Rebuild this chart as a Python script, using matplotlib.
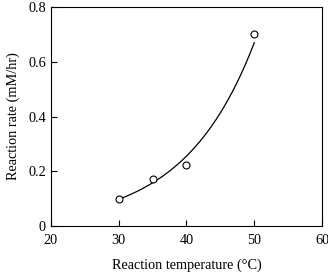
import numpy as np
import matplotlib
matplotlib.use("Agg")
import matplotlib.pyplot as plt

plt.rcParams['font.family'] = ['Liberation Serif', 'DejaVu Serif']

temperature = [30, 35, 40, 50]
rate = [0.0975, 0.172, 0.224, 0.70]
x_ticks = [20, 30, 40, 50, 60]
y_ticks = [0, 0.2, 0.4, 0.6, 0.8]
y_tick_labels = ["0", "0.2", "0.4", "0.6", "0.8"]

# exponential trend fitted to the data
b, ln_a = np.polyfit(temperature, np.log(rate), 1)
xf = np.linspace(min(temperature), max(temperature), 200)
yf = np.exp(ln_a + b * xf)

fig = plt.figure(figsize=(3.28, 2.72), dpi=100)
ax = fig.add_axes([0.155, 0.169, 0.827, 0.805])
ax.plot(xf, yf, color='black', lw=0.9)
ax.plot(temperature, rate, 'o', mfc='white', mec='black', ms=5, mew=0.8)

ax.set_xlim(20, 60)
ax.set_ylim(0, 0.8)
ax.set_xticks(x_ticks)
ax.set_yticks(y_ticks)
ax.set_yticklabels(y_tick_labels)
ax.tick_params(direction='in', length=4, width=0.8, labelsize=10.3, top=False, right=False)
ax.tick_params(axis='x', pad=6)
for s in ax.spines.values():
    s.set_linewidth(0.8)
ax.set_xlabel("Reaction temperature (°C)", fontsize=10.3, labelpad=8)
ax.set_ylabel("Reaction rate (mM/hr)", fontsize=10.3, labelpad=6)

fig.savefig("out.png", dpi=100)
